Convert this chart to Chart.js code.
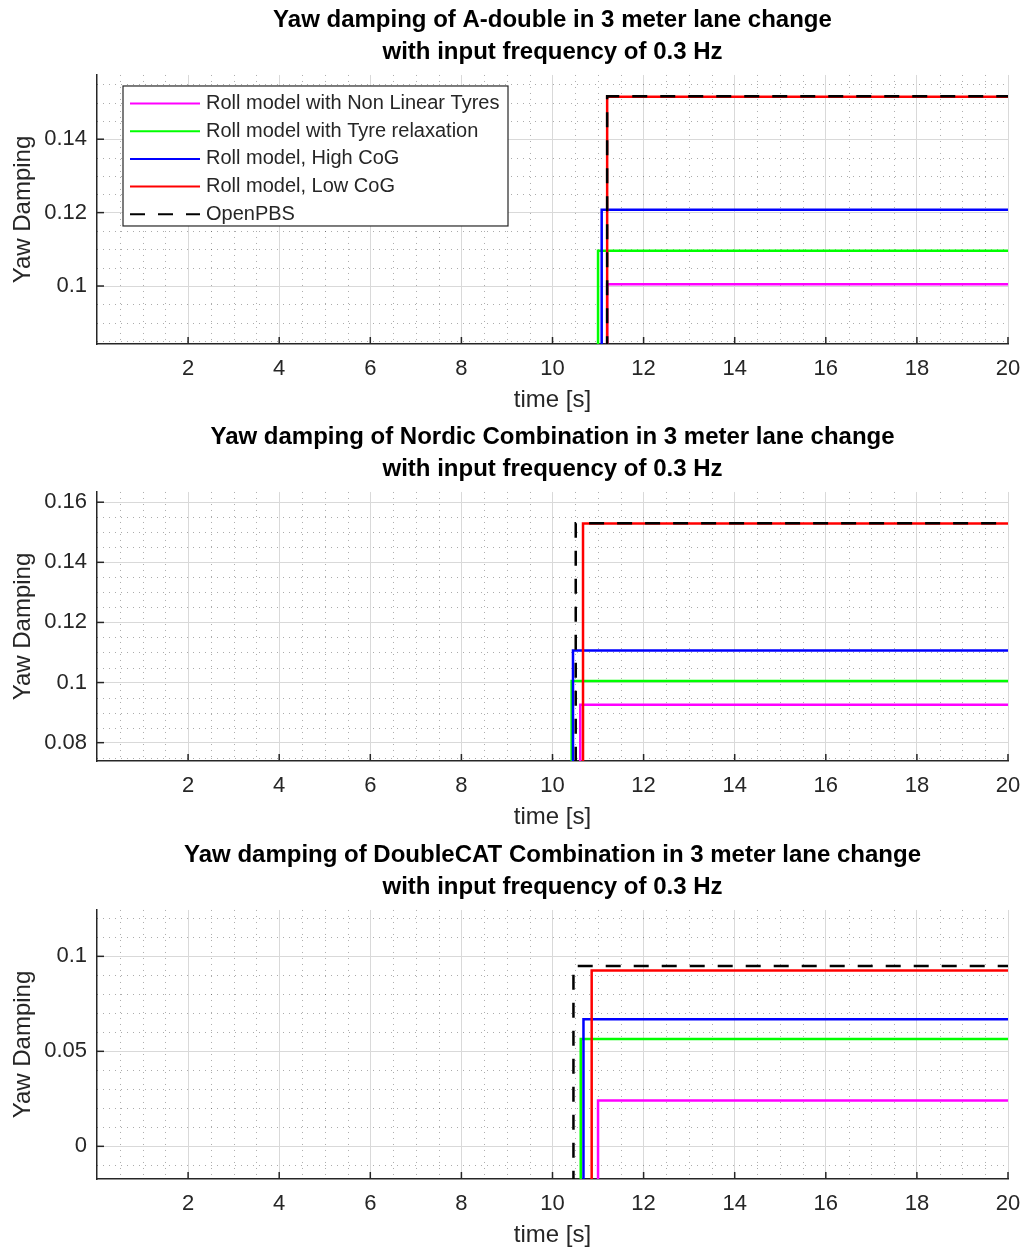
<!DOCTYPE html>
<html>
<head>
<meta charset="utf-8">
<script src="https://cdn.jsdelivr.net/npm/chart.js@4.4.1/dist/chart.umd.min.js"></script>
<style>
html, body { margin: 0; padding: 0; background: #fff; overflow: hidden; }
.panel { position: absolute; left: 0; width: 1024px; height: 417px; }
</style>
</head>
<body>
<div class="panel" style="top:0px"><canvas id="c1" width="1024" height="417"></canvas></div>
<div class="panel" style="top:417px"><canvas id="c2" width="1024" height="417"></canvas></div>
<div class="panel" style="top:835px"><canvas id="c3" width="1024" height="417"></canvas></div>
<script>
// series (same order as the legend)
const seriesNames = ['Roll model with Non Linear Tyres', 'Roll model with Tyre relaxation', 'Roll model, High CoG', 'Roll model, Low CoG', 'OpenPBS'];
const seriesColors = ['#ff00ff', '#00ff00', '#0000ff', '#ff0000', '#000000'];
const tEnd = 20;
const xTicks = [2, 4, 6, 8, 10, 12, 14, 16, 18, 20];

// A-double
const adoubleStep = [11.2, 11.0, 11.08, 11.2, 11.2];
const adoubleYaw = [0.1005, 0.1096, 0.1208, 0.1516, 0.1517];
const adoubleStart = [0, 0, 0, 0, 0];
const adoubleYTicks = [0.1, 0.12, 0.14];

// Nordic Combination
const nordicStep = [10.61, 10.42, 10.45, 10.67, 10.51];
const nordicYaw = [0.0926, 0.1005, 0.1107, 0.1529, 0.1530];
const nordicStart = [0, 0, 0, 0, 0];
const nordicYTicks = [0.08, 0.1, 0.12, 0.14, 0.16];

// DoubleCAT Combination
const dcatStep = [11.0, 10.62, 10.68, 10.86, 10.46];
const dcatYaw = [0.0241, 0.0565, 0.0669, 0.0926, 0.0949];
const dcatStart = [-0.05, -0.05, -0.05, -0.05, -0.05];
const dcatYTicks = [0, 0.05, 0.1];

const fam = '"Liberation Sans", Arial, Helvetica, sans-serif';
const axisCol = '#262626';

function buildSets(stepT, yaw, start) {
  return seriesNames.map((name, i) => ({
    label: name,
    data: [
      {x: 0, y: start[i]},
      {x: stepT[i], y: start[i]},
      {x: stepT[i], y: yaw[i]},
      {x: tEnd, y: yaw[i]}
    ],
    borderColor: seriesColors[i],
    backgroundColor: seriesColors[i],
    borderWidth: 2.5,
    borderDash: i == 4 ? [15, 13] : [],
    pointRadius: 0,
    fill: false,
    tension: 0,
    order: 5 - i
  }));
}

// dotted minor grid like matlab
const minorGrid = {
  id: 'minorGrid',
  beforeDatasetsDraw(chart, args, opts) {
    const {ctx, chartArea: a, scales: {x, y}} = chart;
    ctx.save();
    ctx.strokeStyle = 'rgba(0,0,0,0.33)';
    ctx.lineWidth = 1;
    ctx.setLineDash([1, 5]);
    for (let k = Math.ceil(x.min / opts.xStep); k * opts.xStep <= x.max + 1e-9; k++) {
      const v = k * opts.xStep;
      if (Math.abs(v / 2 - Math.round(v / 2)) < 1e-6) continue;
      const px = Math.round(x.getPixelForValue(v)) + 0.5;
      ctx.beginPath(); ctx.moveTo(px, a.top); ctx.lineTo(px, a.bottom); ctx.stroke();
    }
    for (let k = Math.ceil(y.min / opts.yStep); k * opts.yStep <= y.max + 1e-9; k++) {
      const v = k * opts.yStep;
      if (Math.abs(v / opts.yMajor - Math.round(v / opts.yMajor)) < 1e-6) continue;
      const py = Math.round(y.getPixelForValue(v)) + 0.5;
      ctx.beginPath(); ctx.moveTo(a.left, py); ctx.lineTo(a.right, py); ctx.stroke();
    }
    ctx.restore();
  }
};

// tick marks pointing inwards
const inTicks = {
  id: 'inTicks',
  afterDatasetsDraw(chart) {
    const {ctx, chartArea: a, scales: {x, y}} = chart;
    ctx.save();
    ctx.strokeStyle = axisCol;
    ctx.lineWidth = 1.5;
    x.ticks.forEach(t => {
      const px = x.getPixelForValue(t.value);
      ctx.beginPath(); ctx.moveTo(px, a.bottom); ctx.lineTo(px, a.bottom - 7); ctx.stroke();
    });
    y.ticks.forEach(t => {
      const py = y.getPixelForValue(t.value);
      ctx.beginPath(); ctx.moveTo(a.left, py); ctx.lineTo(a.left + 7, py); ctx.stroke();
    });
    ctx.restore();
  }
};

// legend box inside the first plot
const boxLegend = {
  id: 'boxLegend',
  afterDraw(chart) {
    const {ctx, chartArea: a} = chart;
    const bx = a.left + 26, by = a.top + 11, bw = 385, bh = 140;
    ctx.save();
    ctx.fillStyle = '#fff';
    ctx.fillRect(bx, by, bw, bh);
    ctx.strokeStyle = axisCol;
    ctx.lineWidth = 1.2;
    ctx.strokeRect(bx, by, bw, bh);
    ctx.font = '20px ' + fam;
    ctx.textBaseline = 'middle';
    chart.data.datasets.forEach((ds, i) => {
      const yy = by + 17.5 + i * 27.7;
      ctx.strokeStyle = ds.borderColor;
      ctx.lineWidth = 2;
      ctx.setLineDash(ds.borderDash);
      ctx.beginPath(); ctx.moveTo(bx + 7, yy); ctx.lineTo(bx + 77, yy); ctx.stroke();
      ctx.setLineDash([]);
      ctx.fillStyle = axisCol;
      ctx.fillText(ds.label, bx + 83, yy);
    });
    ctx.restore();
  }
};

function makeChart(id, title, sets, yMin, yMax, yTicks, yMajor, yStep, extra) {
  return new Chart(document.getElementById(id), {
    type: 'line',
    data: { datasets: sets },
    options: {
      responsive: false,
      animation: false,
      layout: { padding: { left: 0, right: 16, top: 0, bottom: 0 } },
      plugins: {
        legend: { display: false },
        tooltip: { enabled: false },
        title: {
          display: true,
          text: title,
          fullSize: false,
          color: '#000',
          font: { family: fam, size: 24, weight: 'bold', lineHeight: 1.333 },
          padding: { top: 4, bottom: 7 }
        },
        minorGrid: { xStep: 0.5, yStep: yStep, yMajor: yMajor }
      },
      scales: {
        x: {
          type: 'linear',
          min: 0,
          max: tEnd,
          afterBuildTicks: s => { s.ticks = xTicks.map(v => ({value: v})); },
          afterFit: s => { s.height = 73; s.paddingRight = 0; s.paddingLeft = 0; },
          ticks: { color: axisCol, font: { family: fam, size: 22 }, padding: 12, callback: v => String(v) },
          grid: { color: '#d9d9d9', drawTicks: false },
          border: { color: axisCol, width: 1.5 },
          title: { display: true, text: 'time [s]', color: axisCol, font: { family: fam, size: 24 }, padding: { top: 0, bottom: 2 } }
        },
        y: {
          type: 'linear',
          min: yMin,
          max: yMax,
          afterBuildTicks: s => { s.ticks = yTicks.map(v => ({value: v})); },
          afterFit: s => { s.width = 97; },
          ticks: { color: axisCol, font: { family: fam, size: 22 }, padding: 10, callback: v => String(v) },
          grid: { color: '#d9d9d9', drawTicks: false },
          border: { color: axisCol, width: 1.5 },
          title: { display: true, text: 'Yaw Damping', color: axisCol, font: { family: fam, size: 24 }, padding: { top: 9, bottom: 0 } }
        }
      }
    },
    plugins: [minorGrid, inTicks].concat(extra || [])
  });
}

makeChart('c1', ['Yaw damping of A-double in 3 meter lane change', 'with input frequency of 0.3 Hz'],
  buildSets(adoubleStep, adoubleYaw, adoubleStart), 0.0842, 0.1575, adoubleYTicks, 0.02, 0.005, [boxLegend]);
makeChart('c2', ['Yaw damping of Nordic Combination in 3 meter lane change', 'with input frequency of 0.3 Hz'],
  buildSets(nordicStep, nordicYaw, nordicStart), 0.0739, 0.1634, nordicYTicks, 0.02, 0.005);
makeChart('c3', ['Yaw damping of DoubleCAT Combination in 3 meter lane change', 'with input frequency of 0.3 Hz'],
  buildSets(dcatStep, dcatYaw, dcatStart), -0.0172, 0.1244, dcatYTicks, 0.05, 0.01);
</script>
</body>
</html>
